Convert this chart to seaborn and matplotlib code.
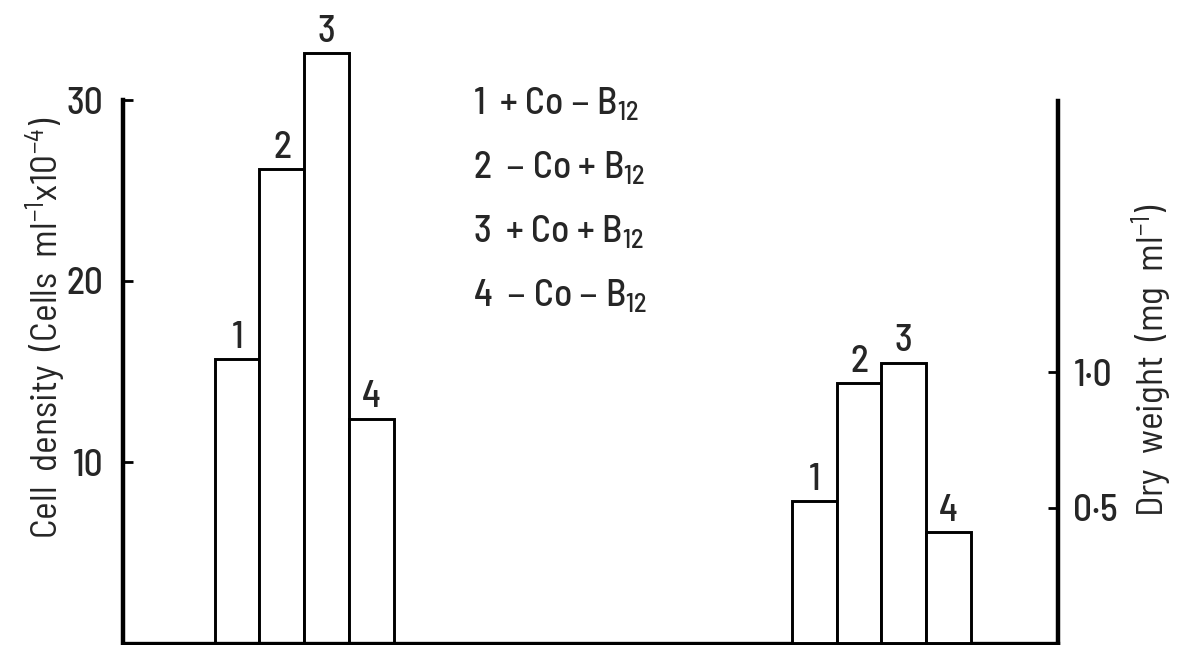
import numpy as np
import matplotlib
matplotlib.use("Agg")
import matplotlib.pyplot as plt
import seaborn as sns

# ---- data ----
treatments = ["1", "2", "3", "4"]
cell_density = [15.7, 26.2, 32.6, 12.4]        # Cells ml-1 x 10-4
dry_weight = [0.525, 0.96, 1.035, 0.41]         # mg ml-1
left_ticks = [10, 20, 30]
left_ticklabels = ["10", "20", "30"]
right_ticks = [0.5, 1.0]
right_ticklabels = ["0·5", "1·0"]
legend_lines = [
    "1  + Co – B$_{12}$",
    "2  – Co + B$_{12}$",
    "3  + Co + B$_{12}$",
    "4  – Co – B$_{12}$",
]
left_label = "Cell  density  (Cells  ml$^{-1}$x10$^{-4}$)"
right_label = "Dry  weight  (mg  ml$^{-1}$)"

# ---- style ----
sns.set_theme(style="white")
plt.rcParams["font.family"] = ["Barlow Semi Condensed", "DejaVu Sans"]
plt.rcParams["font.weight"] = "medium"
plt.rcParams["mathtext.default"] = "regular"
FS = 27

W, H = 1178, 645
fig = plt.figure(figsize=(W / 100, H / 100), dpi=100)
ax = fig.add_axes([123 / W, 2 / H, (1058 - 123) / W, 643 / H])
ax2 = ax.twinx()

# bar positions (layout)
left_pos = 2.55 + np.arange(len(treatments))
right_pos = 15.45 + np.arange(len(treatments))

sns.barplot(x=left_pos, y=cell_density, native_scale=True, width=1.0,
            color="white", saturation=1, edgecolor="black", linewidth=2.1,
            ax=ax)
sns.barplot(x=right_pos, y=dry_weight, native_scale=True, width=1.0,
            color="white", saturation=1, edgecolor="black", linewidth=2.1,
            ax=ax2)

ax.set_xlim(0, 20.9)
ax2.set_xlim(0, 20.9)
ax.set_ylim(0, 643 / 18.1)
ax2.set_ylim(0, 643 / 271)

for a in (ax, ax2):
    a.bar_label(a.containers[0], labels=treatments, padding=3, fontsize=FS)

# spines
for s in ("top", "right"):
    ax.spines[s].set_visible(False)
for s in ("top", "left", "bottom"):
    ax2.spines[s].set_visible(False)
ax.spines["left"].set_bounds(0, 30)
ax.spines["left"].set_linewidth(3.2)
ax.spines["bottom"].set_linewidth(2.4)
ax.spines["left"].set_color("black")
ax.spines["bottom"].set_color("black")
ax2.spines["right"].set_bounds(0, 2.0)
ax2.spines["right"].set_linewidth(3.2)
ax2.spines["right"].set_color("black")

ax.set_xticks([])
ax.set_yticks(left_ticks)
ax.set_yticklabels(left_ticklabels, fontsize=FS)
ax.tick_params(axis="y", direction="in", length=7, width=2, pad=14,
               color="black", left=True)
ax2.set_yticks(right_ticks)
ax2.set_yticklabels(right_ticklabels, fontsize=FS)
ax2.tick_params(axis="y", direction="in", length=7, width=2, pad=11,
                color="black", right=True)

ax.set_ylabel(left_label, fontsize=FS)
ax.yaxis.set_label_coords(-0.059, 0.49)
ax2.set_ylabel(right_label, fontsize=FS)
ax2.yaxis.set_label_coords(1.077, 0.44)
ax.set_xlabel("")
ax2.set_xlabel("")

for i, line in enumerate(legend_lines):
    fig.text(473 / W, 1 - (114 + 64 * i) / H, line, fontsize=FS,
             ha="left", va="baseline")

fig.savefig("out.png", dpi=100)
